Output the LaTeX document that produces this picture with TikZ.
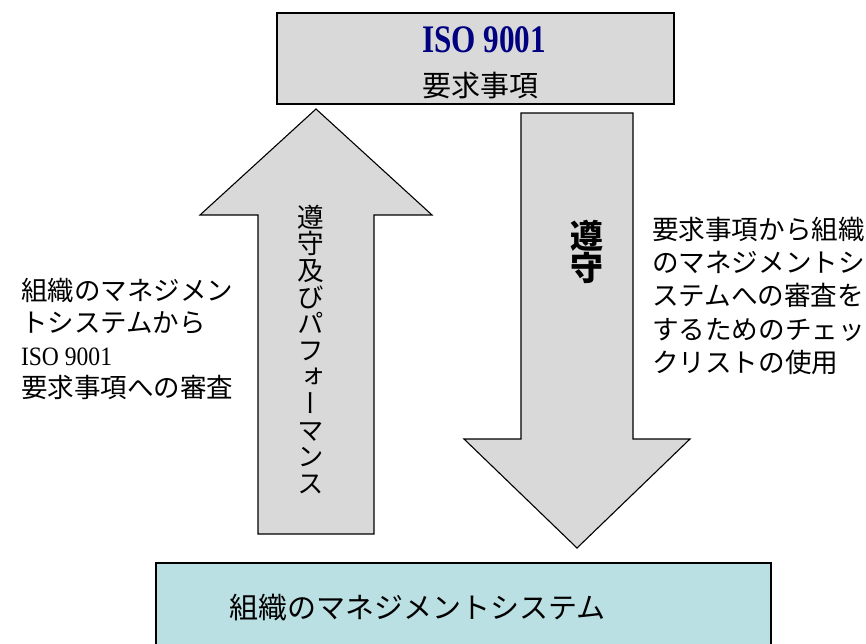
\documentclass[tikz,border=0pt]{standalone}
\usepackage{graphicx}
\usepackage{fontspec}
\setmainfont{Liberation Serif}
\newfontfamily\jp{Noto Sans CJK JP}
\newfontfamily\jpv[RawFeature=+vert]{Noto Sans CJK JP}
\definecolor{boxgray}{HTML}{D9D9D9}
\definecolor{mscyan}{HTML}{BBE0E3}
\definecolor{isonavy}{HTML}{000080}
\begin{document}
\begin{tikzpicture}[x=1pt,y=-1pt,
  graybox/.style={draw=black, fill=boxgray, line width=1.3pt, inner sep=0pt},
  cyanbox/.style={draw=black, fill=mscyan, line width=1.3pt, inner sep=0pt},
  blockarrow/.style={draw=black, fill=boxgray, line width=1.1pt, line join=miter},
  lbl/.style={inner sep=0pt, outer sep=0pt}]
\useasboundingbox (0,0) rectangle (866,644);
% top box
\node[graybox, minimum width=397pt, minimum height=91pt] (iso) at (475.5,58.5) {};
\node[lbl, anchor=north, text=isonavy] (isot) at (484,27)
  {\fontsize{39}{39}\selectfont\bfseries\scalebox{0.8}[1]{ISO 9001}};
\node[lbl, anchor=north] (req) at (480,72) {\jp\fontsize{29}{29}\selectfont 要求事項};
% bottom box
\node[cyanbox, minimum width=615pt, minimum height=100pt] (ms) at (463.5,613) {};
\node[lbl, anchor=west] (mst) at (229,608) {\jp\fontsize{29}{29}\selectfont 組織のマネジメントシステム};
% up arrow
\draw[blockarrow] (258,534) -- (258,215) -- (200,215) -- (316,109) -- (432,215) -- (374,215) -- (374,534) -- cycle;
\node[lbl, anchor=north, align=center, font={\jpv\fontsize{26.6}{26.6}\selectfont}] (upt) at (311,205)
  {遵\\守\\及\\び\\パ\\フ\\ォ\\ー\\マ\\ン\\ス};
% down arrow
\draw[blockarrow] (521,113) -- (633,113) -- (633,439) -- (690,439) -- (577,548) -- (464,439) -- (521,439) -- cycle;
\node[lbl, anchor=north, align=center, font={\jpv\bfseries\fontsize{33}{32.5}\selectfont}] (dnt) at (587,220)
  {遵\\守};
% side texts
\node[lbl, anchor=north west, align=left, font={\jp\fontsize{26.5}{32.5}\selectfont}] (lt) at (21,278)
  {組織のマネジメン\\トシステムから\\{\rmfamily\scalebox{0.89}[1]{ISO 9001}}\\要求事項への審査};
\node[lbl, anchor=north west, align=left, font={\jp\fontsize{26.6}{33.3}\selectfont}] (rt) at (652,217)
  {要求事項から組織\\のマネジメントシ\\ステムへの審査を\\するためのチェッ\\クリストの使用};
\end{tikzpicture}
\end{document}
